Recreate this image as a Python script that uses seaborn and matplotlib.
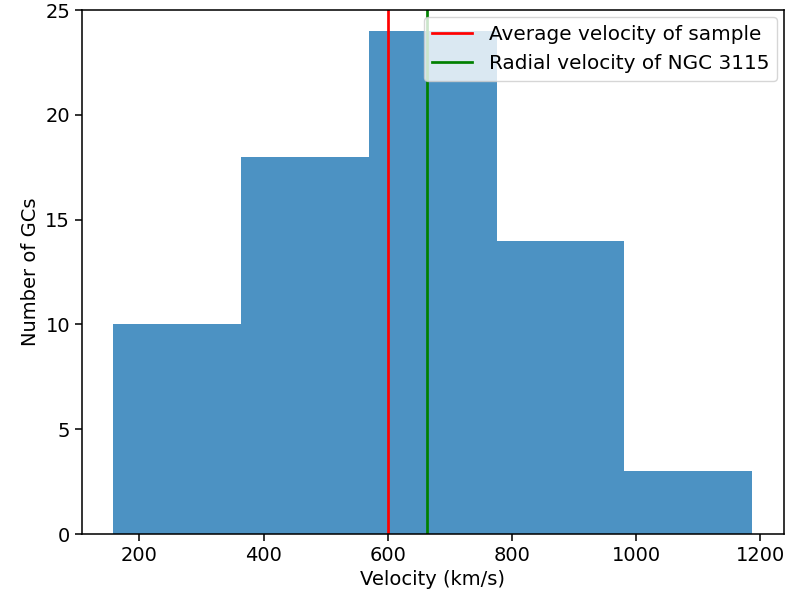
import seaborn as sns
import matplotlib.pyplot as plt
import pandas as pd

# histogram
bin_edges = [158, 364, 570, 776, 981, 1187]
bin_counts = [10, 18, 24, 14, 3]
avg_velocity = 600
ngc3115_velocity = 663

centers = [(a + b) / 2 for a, b in zip(bin_edges[:-1], bin_edges[1:])]
df = pd.DataFrame({"velocity": centers, "count": bin_counts})

s = 1.4  # the reference looks like a default figure scaled up
plt.rcParams.update({
    "font.size": 10 * s,
    "axes.linewidth": 0.8 * s,
    "xtick.major.size": 3.5 * s,
    "ytick.major.size": 3.5 * s,
    "xtick.major.width": 0.8 * s,
    "ytick.major.width": 0.8 * s,
})

fig = plt.figure(figsize=(7.86, 5.97), dpi=100)
ax = fig.add_axes([0.104, 0.1055, 0.8935, 0.8775])

sns.histplot(data=df, x="velocity", weights="count", bins=bin_edges,
             color="#1f77b4", alpha=0.8, linewidth=0, ax=ax)

ax.axvline(avg_velocity, color="red", linewidth=1.4 * s, label="Average velocity of sample")
ax.axvline(ngc3115_velocity, color="green", linewidth=1.4 * s, label="Radial velocity of NGC 3115")

ax.set_xlim(107, 1238)
ax.set_ylim(0, 25)
ax.set_xticks([200, 400, 600, 800, 1000, 1200])
ax.set_yticks([0, 5, 10, 15, 20, 25])
ax.set_xlabel("Velocity (km/s)")
ax.set_ylabel("Number of GCs")
ax.legend(loc="upper right", fontsize=10.3 * s, borderaxespad=0.35)

fig.savefig("out.png", dpi=100)
